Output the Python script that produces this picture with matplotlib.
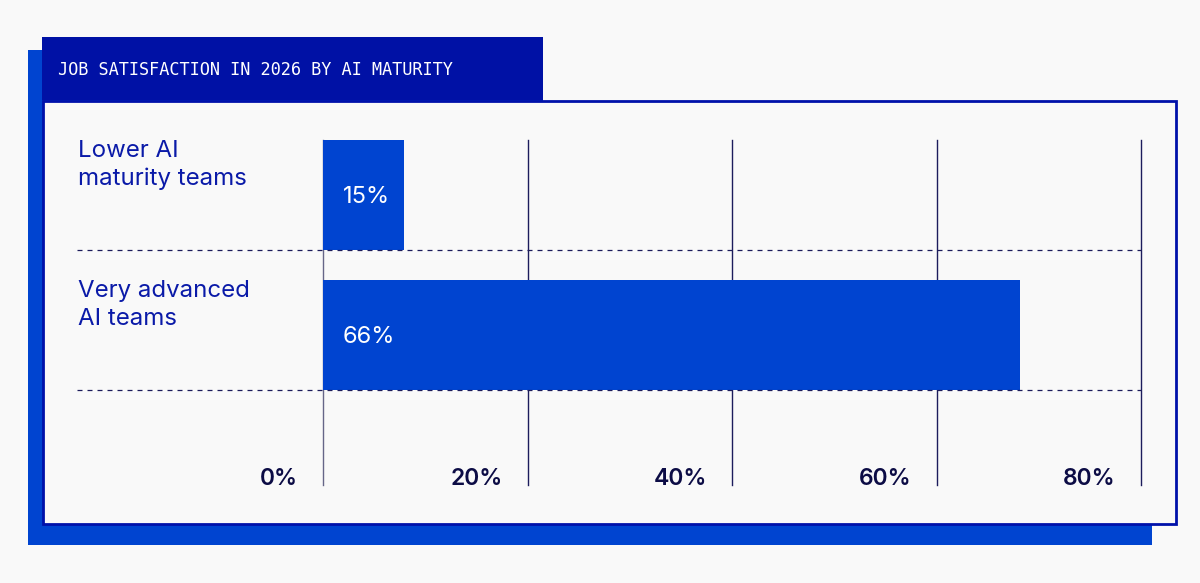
import matplotlib
matplotlib.use("Agg")
import matplotlib.pyplot as plt
from matplotlib.patches import Rectangle
from matplotlib.transforms import blended_transform_factory

# ---- data ----
title = "JOB SATISFACTION IN 2026 BY AI MATURITY"
categories = ["Lower AI\nmaturity teams", "Very advanced\nAI teams"]
value_labels = ["15%", "66%"]
bar_lengths = [7.9, 68.2]          # bar extents as drawn in the reference (axis %)
ticks = [0, 20, 40, 60, 80]
tick_labels = ["0%", "20%", "40%", "60%", "80%"]

# ---- style ----
BG = "#f9f9f9"
TAB = "#0011a5"
BORDER = "#0011aa"
SHADOW = "#0044d0"
BAR = "#0044d0"
CAT = "#0a1aa8"
NAVY = "#0c0c45"
GRID = "#1c1c5c"
SANS = ["Inter", "DejaVu Sans"]

W, H = 1200, 583
fig = plt.figure(figsize=(W / 100, H / 100), dpi=100, facecolor=BG)


def px_rect(x0, y0, x1, y1, **kw):
    r = Rectangle((x0 / W, 1 - y1 / H), (x1 - x0) / W, (y1 - y0) / H,
                  transform=fig.transFigure, **kw)
    fig.patches.append(r)
    return r


# shadow (tab part + box part), main box, title tab
px_rect(28, 50, 543, 545, facecolor=SHADOW, edgecolor="none", zorder=0)
px_rect(28, 110, 1152, 545, facecolor=SHADOW, edgecolor="none", zorder=0)
px_rect(43, 101, 1176, 524, facecolor=BG, edgecolor=BORDER, linewidth=2, zorder=1)
px_rect(42, 37, 543, 100, facecolor=TAB, edgecolor="none", zorder=2)
fig.text(58 / W, 1 - 70 / H, title, color="white", fontsize=12.2,
         family="DejaVu Sans Mono", va="center", ha="left", zorder=3)

# axes: x 0..80 from px 323 to 1141, y from px 140 to 485
ax = fig.add_axes([323 / W, 1 - 485 / H, (1141 - 323) / W, (485 - 140) / H])
ax.set_facecolor("none")
ax.set_zorder(2)
for s in ax.spines.values():
    s.set_visible(False)
ax.set_xlim(0, 80)
ax.set_ylim(2.071, -0.393)
ax.set_xticks([])
ax.set_yticks([])

bar_h = 0.79
ypos = list(range(len(categories)))

# vertical gridlines
for t in ticks:
    ax.axvline(t, color="#666688" if t == 0 else GRID, linewidth=1, zorder=1,
               clip_on=False)

ax.barh(ypos, bar_lengths, height=bar_h, color=BAR, zorder=2, align="center")

# dashed separators spanning from left labels to right gridline
tr = blended_transform_factory(fig.transFigure, ax.transData)
for y in ypos:
    ax.plot([77 / W, 1141 / W], [y + bar_h / 2] * 2, transform=tr, clip_on=False,
            color=GRID, linewidth=0.9, linestyle=(0, (4, 4)), zorder=3)

# value labels inside bars
for y, lab in zip(ypos, value_labels):
    ax.annotate(lab, xy=(0, y), xytext=(20, -2), textcoords="offset pixels",
                color="white", fontsize=17, family=SANS, va="center", ha="left",
                zorder=4)

# category labels
for y, cat in zip(ypos, categories):
    fig.text(78 / W, y - bar_h / 2, cat, transform=tr, color=CAT, fontsize=17.3,
             family=SANS, va="top", ha="left", linespacing=1.35)

# tick labels (right-aligned, left of gridline, baseline at gridline bottom)
for t, lab in zip(ticks, tick_labels):
    ax.annotate(lab, xy=(t, 2.071), xytext=(-25, 0), textcoords="offset pixels",
                color=NAVY, fontsize=16.5, fontweight="semibold", family=SANS,
                va="baseline", ha="right", annotation_clip=False)

fig.savefig("out.png", dpi=100, facecolor=BG)
